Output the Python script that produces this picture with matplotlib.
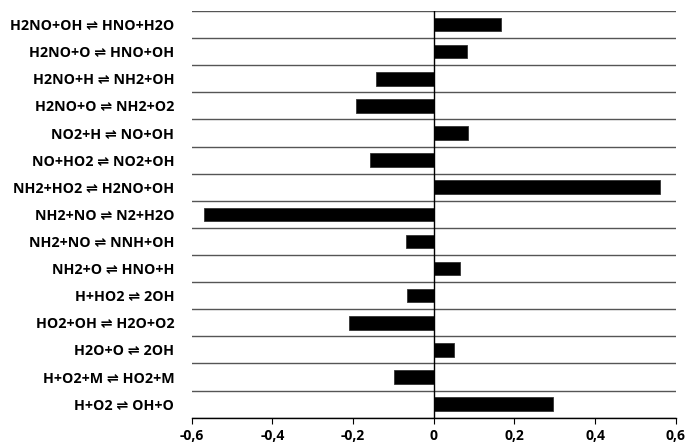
import matplotlib
matplotlib.use("Agg")
import matplotlib.pyplot as plt
import numpy as np

reactions = [
    "H2NO+OH \u21cc HNO+H2O",
    "H2NO+O \u21cc HNO+OH",
    "H2NO+H \u21cc NH2+OH",
    "H2NO+O \u21cc NH2+O2",
    "NO2+H \u21cc NO+OH",
    "NO+HO2 \u21cc NO2+OH",
    "NH2+HO2 \u21cc H2NO+OH",
    "NH2+NO \u21cc N2+H2O",
    "NH2+NO \u21cc NNH+OH",
    "NH2+O \u21cc HNO+H",
    "H+HO2 \u21cc 2OH",
    "HO2+OH \u21cc H2O+O2",
    "H2O+O \u21cc 2OH",
    "H+O2+M \u21cc HO2+M",
    "H+O2 \u21cc OH+O",
]
sensitivity = [0.166, 0.082, -0.144, -0.193, 0.085, -0.158, 0.560, -0.570,
               -0.068, 0.064, -0.065, -0.210, 0.051, -0.099, 0.296]
xticks = [-0.6, -0.4, -0.2, 0, 0.2, 0.4, 0.6]
xticklabels = ["-0,6", "-0,4", "-0,2", "0", "0,2", "0,4", "0,6"]

fonts = ["Open Sans", "DejaVu Sans"]
plt.rcParams["font.family"] = fonts

fig = plt.figure(figsize=(6.89, 4.47), dpi=100)
ax = fig.add_axes([0.2782, 0.0656, 0.9807 - 0.2782, 0.9754 - 0.0656])

n = len(reactions)
pos = np.arange(n)
ax.barh(pos, sensitivity, height=0.5, color="black", edgecolor="#333333",
        linewidth=0.6, zorder=3)

ax.set_ylim(n - 0.5, -0.5)
ax.set_xlim(-0.6, 0.6)

ax.set_yticks(pos)
ax.set_yticklabels(reactions, fontsize=10.3, fontweight="bold")
ax.tick_params(axis="y", which="major", length=0, pad=12.5)
ax.set_yticks(np.arange(n + 1) - 0.5, minor=True)
ax.tick_params(axis="y", which="minor", length=0)
ax.grid(which="minor", axis="y", color="#555555", linewidth=1.0, zorder=1)

ax.set_xticks(xticks)
ax.set_xticklabels(xticklabels, fontsize=10, fontweight="bold")
ax.tick_params(axis="x", length=4, width=0.8, direction="out", pad=4)

ax.axvline(0, color="black", linewidth=1.0, zorder=4)

for s in ["top", "right", "left"]:
    ax.spines[s].set_visible(False)
ax.spines["bottom"].set_color("black")
ax.spines["bottom"].set_linewidth(1.0)

fig.savefig("out.png", dpi=100)
